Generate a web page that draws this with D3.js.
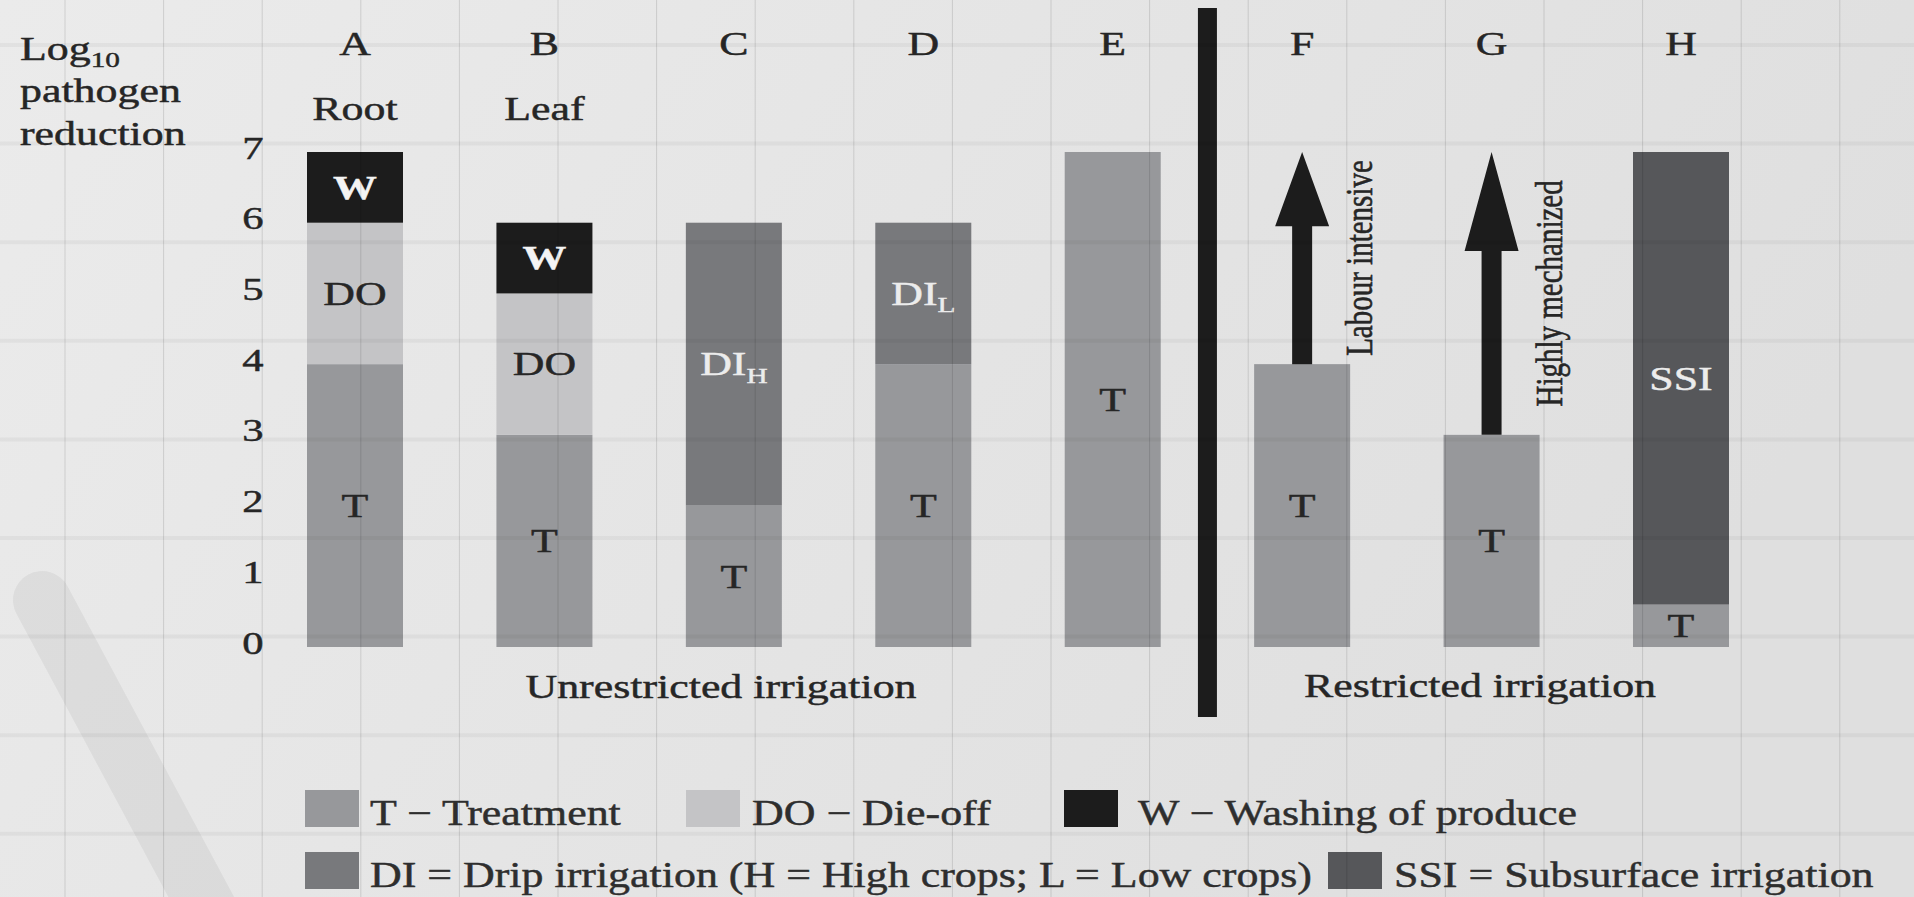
<!DOCTYPE html>
<html>
<head>
<meta charset="utf-8">
<script src="https://cdn.jsdelivr.net/npm/d3@7"></script>
<style>
  html, body { margin: 0; padding: 0; background: #e7e7e7; }
  svg { display: block; }
  text { font-family: "Liberation Serif", "DejaVu Serif", serif; fill: #262626; stroke: #262626; stroke-width: 0.45px; }
</style>
</head>
<body>
<svg id="chart" width="1914" height="897"></svg>
<script>
// log10 pathogen reduction per option, split by component
const categories = ['A', 'B', 'C', 'D', 'E', 'F', 'G', 'H'];
const cropLabels = ['Root', 'Leaf', '', '', '', '', '', ''];
const treatment = [4, 3, 2, 4, 7, 4, 3, 0.6];
const dieOff = [2, 2, 0, 0, 0, 0, 0, 0];
const dripIrrigation = [0, 0, 4, 2, 0, 0, 0, 0];
const subsurface = [0, 0, 0, 0, 0, 0, 0, 6.4];
const washing = [1, 1, 0, 0, 0, 0, 0, 0];
const dripSub = ['', '', 'H', 'L', '', '', '', ''];

// extra reduction from the harvest type (restricted irrigation)
const arrowCats = ['F', 'G'];
const arrowFrom = [4, 3];
const arrowTo = [7, 7];
const arrowLabels = ['Labour intensive', 'Highly mechanized'];

const yTicks = [0, 1, 2, 3, 4, 5, 6, 7];
const groupLabels = ['Unrestricted irrigation', 'Restricted irrigation'];
const legendKeys = ['T', 'DO', 'W', 'DI', 'SSI'];
const legendLabels = [
  'T \u2212 Treatment',
  'DO \u2212 Die-off',
  'W \u2212 Washing of produce',
  'DI = Drip irrigation (H = High crops; L = Low crops)',
  'SSI = Subsurface irrigation'
];

const colors = { T: '#97989b', DO: '#c4c4c6', DI: '#78797c', SSI: '#56575a', W: '#1c1c1c' };
const labelColors = { T: '#262626', DO: '#262626', DI: '#ececec', SSI: '#ececec', W: '#f4f4f4' };
const stackKeys = ['T', 'DO', 'DI', 'SSI', 'W'];

const svg = d3.select('#chart');
const width = 1914, height = 897;
const sx = 1.33;     // the source text is drawn wide
const barW = 96;

const x = d3.scalePoint().domain(categories).range([355, 1681]);
const y = d3.scaleLinear().domain([0, 7]).range([647, 152]);

// background
const defs = svg.append('defs');
const grad = defs.append('linearGradient').attr('id', 'bg').attr('x1', 0).attr('x2', 1).attr('y1', 0).attr('y2', 0.3);
grad.append('stop').attr('offset', 0).attr('stop-color', '#ebebeb');
grad.append('stop').attr('offset', 1).attr('stop-color', '#dfdfdf');
svg.append('rect').attr('width', width).attr('height', height).attr('fill', 'url(#bg)');

svg.append('path')
  .attr('d', 'M42,600 L235,960')
  .attr('stroke', '#000').attr('stroke-opacity', 0.05)
  .attr('stroke-width', 58).attr('stroke-linecap', 'round');

function place(sel, px, py, s) {
  return sel.attr('transform', `translate(${px},${py}) scale(${s || sx},1)`);
}

// stacked bars
const rows = categories.map((c, i) => ({
  cat: c, T: treatment[i], DO: dieOff[i], DI: dripIrrigation[i], SSI: subsurface[i], W: washing[i], sub: dripSub[i]
}));
const series = d3.stack().keys(stackKeys)(rows);

const bars = svg.append('g');
series.forEach(s => {
  const segs = s.filter(d => d[1] - d[0] > 0);
  bars.selectAll(null)
    .data(segs)
    .enter()
    .append('rect')
    .attr('x', d => x(d.data.cat) - barW / 2)
    .attr('y', d => y(d[1]))
    .attr('width', barW)
    .attr('height', d => y(d[0]) - y(d[1]))
    .attr('fill', colors[s.key]);

  const lab = bars.selectAll(null)
    .data(segs)
    .enter()
    .append('text')
    .attr('text-anchor', 'middle')
    .attr('dy', '0.34em')
    .attr('font-size', 33)
    .attr('font-weight', s.key === 'W' ? 'bold' : 'normal')
    .style('fill', labelColors[s.key])
    .style('stroke', labelColors[s.key])
    .each(function (d) { place(d3.select(this), x(d.data.cat), y((d[0] + d[1]) / 2)); })
    .text(s.key);
  if (s.key === 'DI') {
    lab.append('tspan').attr('dy', '0.35em').attr('font-size', 22).text(d => d.data.sub);
  }
});

// arrows
arrowCats.forEach((c, i) => {
  const cx = x(c), tip = y(arrowTo[i]), base = y(arrowFrom[i]);
  const head = (base - tip) * 0.35;
  const p = d3.path();
  p.moveTo(cx - 10, base);
  p.lineTo(cx - 10, tip + head);
  p.lineTo(cx - 27, tip + head);
  p.lineTo(cx, tip);
  p.lineTo(cx + 27, tip + head);
  p.lineTo(cx + 10, tip + head);
  p.lineTo(cx + 10, base);
  p.closePath();
  svg.append('path').attr('d', p.toString()).attr('fill', '#1c1c1c');
  svg.append('text')
    .attr('text-anchor', 'middle')
    .attr('font-size', 29)
    .attr('transform', `translate(${cx + 70},${y((arrowFrom[i] + arrowTo[i]) / 2)}) scale(${sx},1) rotate(-90)`)
    .text(arrowLabels[i]);
});

// divider between unrestricted and restricted
const divX = (x('E') + x('F')) / 2;
svg.append('rect').attr('x', divX - 9.5).attr('y', 8).attr('width', 19).attr('height', 709).attr('fill', '#1c1c1c');

// category letters and crop type
const headG = svg.append('g');
categories.forEach((c, i) => {
  place(headG.append('text').attr('text-anchor', 'middle').attr('font-size', 33).text(c), x(c), 55);
  if (cropLabels[i]) {
    place(headG.append('text').attr('text-anchor', 'middle').attr('font-size', 33).text(cropLabels[i]), x(c), 120);
  }
});

// y axis (labels only)
const yAxis = svg.append('g')
  .attr('transform', 'translate(253,0)')
  .call(d3.axisLeft(y).tickValues(yTicks).tickSize(0).tickFormat(d3.format('d')));
yAxis.select('.domain').remove();
yAxis.selectAll('.tick text')
  .attr('x', null).attr('dy', null)
  .attr('text-anchor', 'middle')
  .attr('font-size', 32)
  .style('fill', '#262626')
  .attr('transform', `translate(0,6) scale(${sx},1)`);
yAxis.attr('font-family', null).attr('font-size', null);

// axis title
const title = svg.append('g');
const t1 = place(title.append('text').attr('font-size', 33), 20, 60);
t1.append('tspan').text('Log');
t1.append('tspan').attr('font-size', 22).attr('dy', 7).text('10');
place(title.append('text').attr('font-size', 33).text('pathogen'), 20, 102);
place(title.append('text').attr('font-size', 33).text('reduction'), 20, 145);

// group captions
place(svg.append('text').attr('text-anchor', 'middle').attr('font-size', 33).text(groupLabels[0]), 721, 698);
place(svg.append('text').attr('text-anchor', 'middle').attr('font-size', 33).text(groupLabels[1]), 1480, 697);

// legend
const legendPos = {
  T: { x: 305, tx: 370, row: 0 },
  DO: { x: 686, tx: 752, row: 0 },
  W: { x: 1064, tx: 1138, row: 0 },
  DI: { x: 305, tx: 370, row: 1 },
  SSI: { x: 1328, tx: 1394, row: 1 }
};
const rowTop = [790, 852];
const legend = svg.append('g');
legendKeys.forEach((k, i) => {
  const p = legendPos[k];
  legend.append('rect')
    .attr('x', p.x).attr('y', rowTop[p.row])
    .attr('width', 54).attr('height', 37)
    .attr('fill', colors[k]);
  place(legend.append('text').attr('font-size', 36).style('fill', '#2e2e2e').style('stroke', '#2e2e2e').text(legendLabels[i]),
    p.tx, rowTop[p.row] + 35, 1.22);
});

// faint paper grid on top
const grid = svg.append('g').attr('pointer-events', 'none');
grid.selectAll('.v')
  .data(d3.range(65, width, 98.6))
  .enter().append('line')
  .attr('x1', d => d).attr('x2', d => d)
  .attr('y1', 0).attr('y2', height)
  .attr('stroke', '#000').attr('stroke-opacity', 0.12).attr('stroke-width', 1);
grid.selectAll('.h')
  .data(d3.range(45, height, 98.6))
  .enter().append('line')
  .attr('x1', 0).attr('x2', width)
  .attr('y1', d => d).attr('y2', d => d)
  .attr('stroke', '#000').attr('stroke-opacity', 0.04).attr('stroke-width', 4);
</script>
</body>
</html>
